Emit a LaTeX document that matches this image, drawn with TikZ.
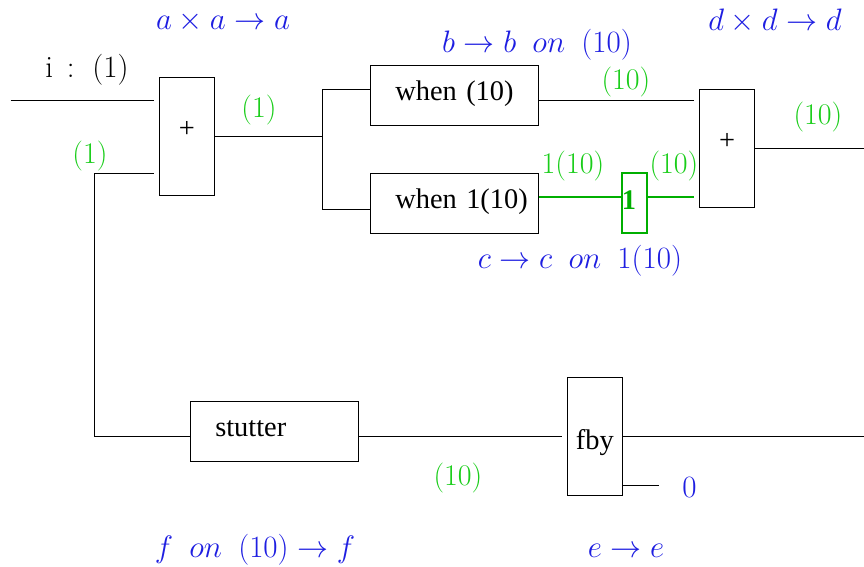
\documentclass[tikz,border=0pt]{standalone}
\usepackage{fontspec}
\newfontfamily\timesfont{Liberation Serif}
\usetikzlibrary{calc}
\definecolor{lblue}{RGB}{30,30,225}
\definecolor{lgreen}{RGB}{25,205,25}
\definecolor{dgreen}{RGB}{0,175,0}
\newcommand{\wsp}{\ \mskip4mu}
\begin{document}
\begin{tikzpicture}[x=1pt,y=-1pt,
 blk/.style={draw, line width=0.9pt, inner sep=0pt, font=\timesfont\fontsize{28.4}{34}\selectfont},
 wide/.style={blk, minimum width=168.4pt, minimum height=60pt, text width=118.4pt, inner xsep=25pt, align=left, text height=19pt, text depth=8pt},
 tall/.style={blk, minimum width=55pt, minimum height=118pt},
 wire/.style={line width=0.9pt},
 gwire/.style={line width=1.8pt, draw=dgreen},
 lbl/.style={anchor=base, inner sep=0pt, font=\Huge, scale=1.246},
 ty/.style={lbl, text=lblue},
 ck/.style={lbl, text=lgreen, scale=0.968}]
\useasboundingbox (0,0) rectangle (864,567);
\coordinate (rend) at (864,0);
% boxes
\node[tall, text height=14pt, text depth=11pt] (p1) at (186.8,136.3) {+};
\node[wide] (w1) at (454.5,95) {\mbox{when (10)}};
\node[wide] (w2) at (454.5,203) {\mbox{when 1(10)}};
\node[draw=dgreen, line width=1.8pt, minimum width=24.7pt, minimum height=60.6pt,
      inner sep=0pt, text width=24.7pt, align=left, text depth=5pt, text=dgreen,
      font=\timesfont\bfseries\fontsize{28.4}{34}\selectfont] (one) at (634.3,203) {1};
\node[tall, text height=14pt, text depth=11pt] (p2) at (727.2,148.3) {+};
\node[wide] (st) at (274.5,431) {\mbox{stutter}};
\node[tall, minimum width=55.7pt, minimum height=118.3pt, text height=32pt, text depth=6.2pt] (fby) at (594.8,436.2) {fby};
% wires
\coordinate (in) at (10.7,100.7);
\draw[wire, shorten >=5pt] (in) -- (in -| p1.west);
\coordinate (c1) at (94.7,173);
\draw[wire, shorten >=5pt] (st.west |- fby.west) -| (c1) -- (c1 -| p1.west);
\coordinate (br) at (322.3,136.3);
\draw[wire] (p1.east) -- (br);
\draw[wire] ($(w1.west)+(0,-6)$) -| (br) |- ($(w2.west)+(0,6)$);
\draw[wire, shorten >=5pt] ($(w1.east)+(0,5.7)$) coordinate (t1) -- (t1 -| p2.west);
\draw[gwire] ($(w2.east)+(0,-5.7)$) coordinate (g1) -- (g1 -| one.west);
\draw[gwire, shorten >=5pt] (g1 -| one.east) -- (g1 -| p2.west);
\draw[wire] (p2.east) -- (p2.east -| rend);
\draw[wire, shorten >=5pt] (st.east |- fby.west) -- (fby.west);
\draw[wire] (fby.east) -- (fby.east -| rend);
\coordinate (zin) at (658.7,485);
\draw[wire] (zin -| fby.east) -- (zin);
% labels
\node[lbl] (li) at (87,78) {$\mathrm{i}\,:\ (1)$};
\node[ty] (ta) at (223,30) {$a\times a\to a$};
\node[ck] (k1) at (259,117) {$(1)$};
\node[ck] (k2) at (90,163) {$(1)$};
\node[ty] (tb) at (537,53) {$b\to b\wsp on\wsp (10)$};
\node[ty] (td) at (775,30.5) {$d\times d\to d$};
\node[ck] (k3) at (626,90) {$(10)$};
\node[ck] (k4) at (818,125) {$(10)$};
\node[ck] (k5) at (573,173) {$1(10)$};
\node[ck] (k6) at (674,173) {$(10)$};
\node[ty] (tc) at (580,268) {$c\to c\wsp on\wsp 1(10)$};
\node[ck] (k7) at (458,485) {$(10)$};
\node[ty] (tz) at (689.5,497) {$0$};
\node[ty] (te) at (626,557) {$e\to e$};
\node[ty] (tf) at (255,557) {$f\wsp on\wsp (10)\to f$};
\end{tikzpicture}
\end{document}
